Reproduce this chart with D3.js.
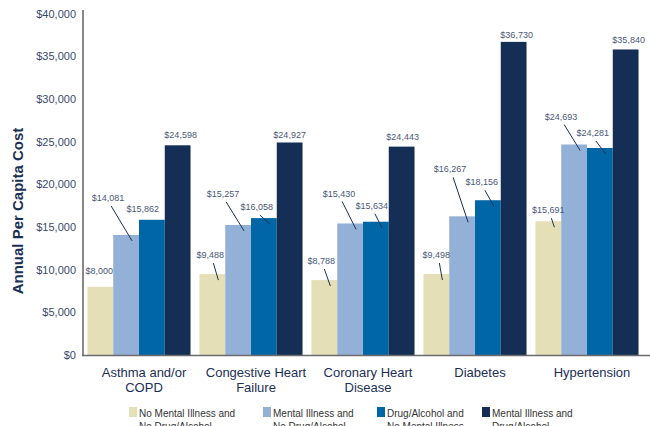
<!DOCTYPE html>
<html>
<head>
<meta charset="utf-8">
<script src="https://cdn.jsdelivr.net/npm/d3@7/dist/d3.min.js"></script>
<style>
  html, body { margin: 0; padding: 0; background: #fff; }
  svg { display: block; font-family: "Liberation Sans", Arial, Helvetica, sans-serif; }
</style>
</head>
<body>
<svg id="chart" width="650" height="426"></svg>
<script>
// ---- Data ----
const categories = ["Asthma and/or\nCOPD", "Congestive Heart\nFailure", "Coronary Heart\nDisease", "Diabetes", "Hypertension"];
const seriesNames = [
  "No Mental Illness and\nNo Drug/Alcohol",
  "Mental Illness and\nNo Drug/Alcohol",
  "Drug/Alcohol and\nNo Mental Illness",
  "Mental Illness and\nDrug/Alcohol"
];
const noMentalNoDrug = [8000, 9488, 8788, 9498, 15691];
const mentalNoDrug   = [14081, 15257, 15430, 16267, 24693];
const drugNoMental   = [15862, 16058, 15634, 18156, 24281];
const mentalAndDrug  = [24598, 24927, 24443, 36730, 35840];
const yTicks = [0, 5000, 10000, 15000, 20000, 25000, 30000, 35000, 40000];

// ---- Layout / style (not data) ----
const colors = ["#E5DFB8", "#93B1D6", "#0066A6", "#142E55"];
// value-label placement per [category][series]: [dx, dy, hasLeader]
const labelPlacement = [
  [[-1,-16,0], [-18,-37,1], [-9,-11,0], [3,-10,0]],
  [[-2,-19,1], [-15,-31,1], [-7,-11,1], [0,-8,0]],
  [[-3,-19,1], [-11,-30,1], [-4,-16,1], [1,-10,0]],
  [[0,-19,1],  [-12,-47,1], [-6,-18,1], [3,-7,0]],
  [[0,-11,1],  [-13,-28,1], [-7,-15,1], [3,-10,0]]
];

const series = [noMentalNoDrug, mentalNoDrug, drugNoMental, mentalAndDrug];
const table = categories.map((c, i) => ({ cat: c, values: series.map(s => s[i]) }));

const svg = d3.select("#chart");
const x0 = d3.scaleBand().domain(categories).range([83, 643]).paddingInner(0.08).paddingOuter(0.04);
const x1 = d3.scaleBand().domain(d3.range(series.length)).range([0, x0.bandwidth()]).padding(0);
const y = d3.scaleLinear().domain([0, 40000]).range([355, 14]);
const fmt = d3.format("$,");

// Y tick labels
svg.append("g").selectAll("text").data(yTicks).join("text")
  .attr("x", 76).attr("y", d => y(d)).attr("dy", "0.35em")
  .attr("text-anchor", "end").attr("font-size", 11).attr("fill", "#3a4a6c")
  .text(d => fmt(d));

// Y title
svg.append("text")
  .attr("transform", "translate(23,211) rotate(-90)")
  .attr("text-anchor", "middle").attr("font-size", 15).attr("font-weight", "bold")
  .attr("fill", "#1b2f55").text("Annual Per Capita Cost");

// Bars
const groups = svg.append("g").selectAll("g").data(table).join("g")
  .attr("transform", d => `translate(${x0(d.cat)},0)`);
groups.selectAll("rect").data(d => d.values).join("rect")
  .attr("x", (d, i) => x1(i)).attr("width", x1.bandwidth())
  .attr("y", d => y(d)).attr("height", d => y(0) - y(d))
  .attr("fill", (d, i) => colors[i]);

// Value labels + leaders
table.forEach((row, ci) => {
  row.values.forEach((v, si) => {
    const [dx, dy, lead] = labelPlacement[ci][si];
    const cx = x0(row.cat) + x1(si) + x1.bandwidth() / 2;
    const top = y(v);
    const lx = cx + dx, ly = top + dy;
    svg.append("text").attr("x", lx).attr("y", ly).attr("dy", "0.35em")
      .attr("text-anchor", "middle").attr("font-size", 9).attr("fill", "#4a5878")
      .text(fmt(v));
    if (lead) {
      svg.append("line")
        .attr("x1", lx + 3).attr("y1", ly + 8)
        .attr("x2", cx + 6).attr("y2", top + 6)
        .attr("stroke", "#1b2f55").attr("stroke-width", 1);
    }
  });
});

// Axes lines
svg.append("line").attr("x1", 83).attr("x2", 83).attr("y1", 10).attr("y2", 356)
  .attr("stroke", "#6b6b6b").attr("stroke-width", 1.6);
svg.append("line").attr("x1", 82).attr("x2", 650).attr("y1", 355.5).attr("y2", 355.5)
  .attr("stroke", "#6b6b6b").attr("stroke-width", 1.6);

// Category labels
svg.append("g").selectAll("text").data(categories).join("text")
  .attr("x", d => x0(d) + x0.bandwidth() / 2 + 5)
  .attr("y", 377).attr("text-anchor", "middle").attr("font-size", 13).attr("fill", "#1b2f55")
  .each(function(d) {
    const t = d3.select(this);
    d.split("\n").forEach((line, k) => {
      t.append("tspan").attr("x", x0(d) + x0.bandwidth() / 2 + 5).attr("dy", k === 0 ? 0 : 15).text(line);
    });
  });

// Legend
const legendX = [129, 263, 377, 482];
const lg = svg.append("g").selectAll("g").data(seriesNames).join("g")
  .attr("transform", (d, i) => `translate(${legendX[i]},407)`);
lg.append("rect").attr("width", 8).attr("height", 10).attr("fill", (d, i) => colors[i]);
lg.append("text").attr("x", 10).attr("y", 10).attr("font-size", 10).attr("fill", "#333")
  .each(function(d) {
    const t = d3.select(this);
    d.split("\n").forEach((line, k) => {
      t.append("tspan").attr("x", 10).attr("dy", k === 0 ? 0 : 13).text(line);
    });
  });
</script>
</body>
</html>
